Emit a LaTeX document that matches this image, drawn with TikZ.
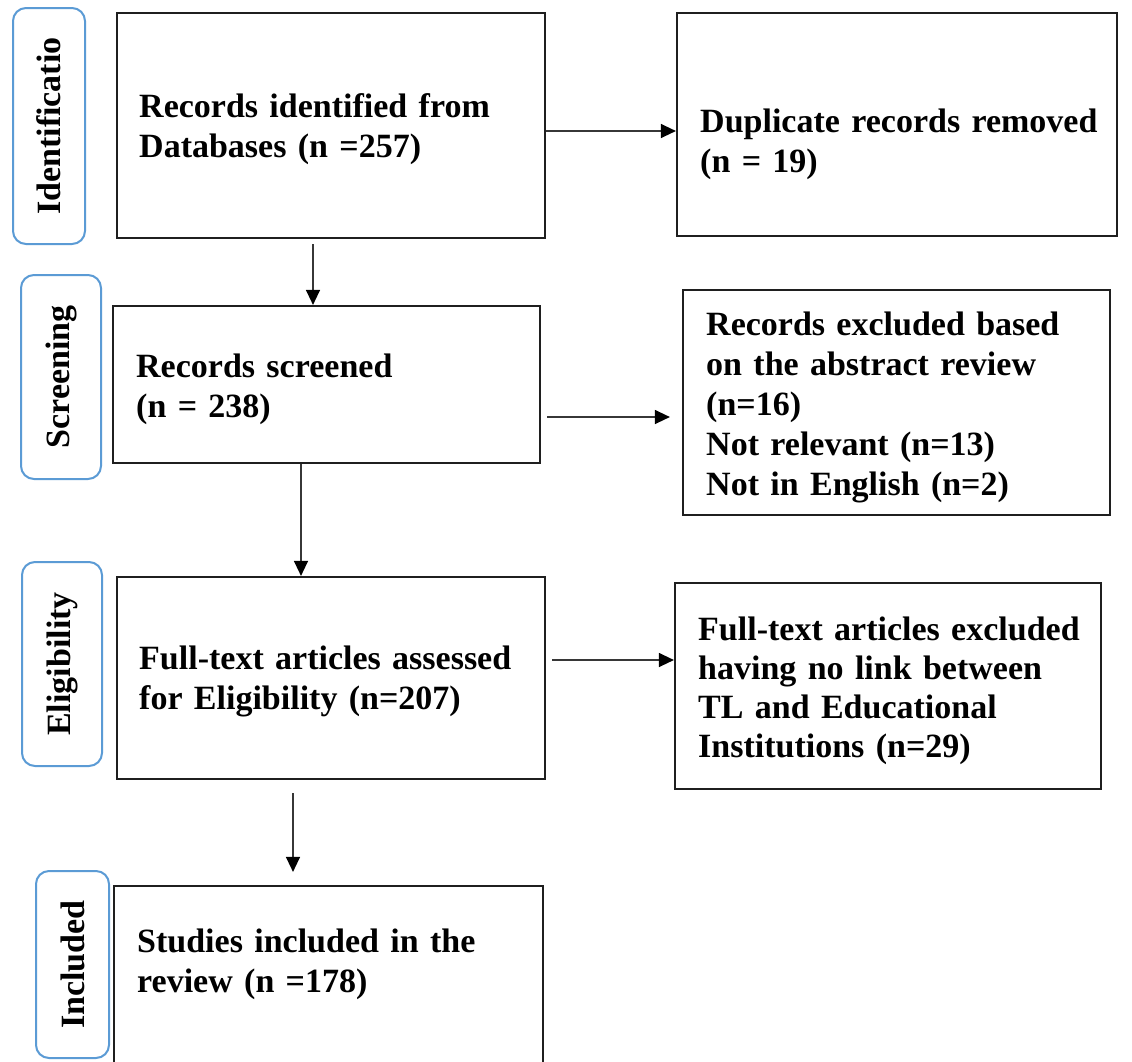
\documentclass[tikz,border=0pt]{standalone}
\usepackage{fontspec}
\setmainfont{Liberation Serif}
\usetikzlibrary{arrows.meta}
\definecolor{stageblue}{RGB}{91,155,213}
\definecolor{arrowgray}{RGB}{55,55,55}
\begin{document}
\begin{tikzpicture}[x=1pt,y=-1pt,
  box/.style={draw=black!88, line width=2.2pt, inner sep=0pt},
  stage/.style={draw=stageblue, line width=2pt, rounded corners=13pt, rotate=90, inner sep=0pt, font=\fontsize{34}{40}\selectfont\bfseries},
  txt/.style={anchor=base west, inner sep=0pt, text width=430pt, align=left, font=\fontsize{34}{40}\selectfont\bfseries},
  arr/.style={draw=arrowgray, line width=1.3pt, -{Triangle[length=15pt,width=14pt,color=black]}}]
\clip (0,0) rectangle (1132,1061);
\fill[white] (0,0) rectangle (1132,1061);

% main boxes
\node[box, minimum width=428pt, minimum height=225pt] (b1) at (331,125.5) {};
\node[txt] (t1) at (139,117) {Records identified from\\Databases (n =257)};
\node[box, minimum width=440pt, minimum height=223pt] (b2) at (897,124.5) {};
\node[txt] (t2) at (700,132) {Duplicate records removed\\(n = 19)};
\node[box, minimum width=427pt, minimum height=157pt] (b3) at (326.5,384.5) {};
\node[txt] (t3) at (136,377) {Records screened\\(n = 238)};
\node[box, minimum width=427pt, minimum height=225pt] (b4) at (896.5,402.5) {};
\node[txt] (t4) at (706,335) {Records excluded based\\on the abstract review\\(n=16)\\Not relevant (n=13)\\Not in English (n=2)};
\node[box, minimum width=428pt, minimum height=202pt] (b5) at (331,678) {};
\node[txt] (t5) at (139,669) {Full-text articles assessed\\for Eligibility (n=207)};
\node[box, minimum width=426pt, minimum height=206pt] (b6) at (888,686) {};
\node[txt, font=\fontsize{34}{39}\selectfont\bfseries] (t6) at (698,640) {Full-text articles excluded\\having no link between\\TL and Educational\\Institutions (n=29)};
\node[box, minimum width=429pt, minimum height=200pt] (b7) at (328.5,986) {};
\node[txt] (t7) at (137,952) {Studies included in the\\review (n =178)};

% stage labels
\node[stage, minimum width=236pt, minimum height=72pt] (s1) at (49,126) {Identificatio};
\node[stage, minimum width=204pt, minimum height=80pt] (s2) at (61,377) {Screening};
\node[stage, minimum width=204pt, minimum height=80pt] (s3) at (62,664) {Eligibility};
\node[stage, minimum width=187pt, minimum height=73pt] (s4) at (72.5,964.5) {Included};

% connector guides
\coordinate (c1) at (313,0);
\coordinate (c2) at (301,0);
\coordinate (c3) at (293,0);
\coordinate (h1) at (0,131);
\coordinate (h2) at (0,417);
\coordinate (h3) at (0,660);

\draw[arr, shorten <=5pt] (b1.south -| c1) -- (b3.north -| c1);
\draw[arr] (b3.south -| c2) -- (b5.north -| c2);
\draw[arr, shorten <=13pt, shorten >=13pt] (b5.south -| c3) -- (b7.north -| c3);
\draw[arr] (b1.east |- h1) -- (b2.west |- h1);
\draw[arr, shorten <=6pt, shorten >=12pt] (b3.east |- h2) -- (b4.west |- h2);
\draw[arr, shorten <=6pt] (b5.east |- h3) -- (b6.west |- h3);
\end{tikzpicture}
\end{document}
